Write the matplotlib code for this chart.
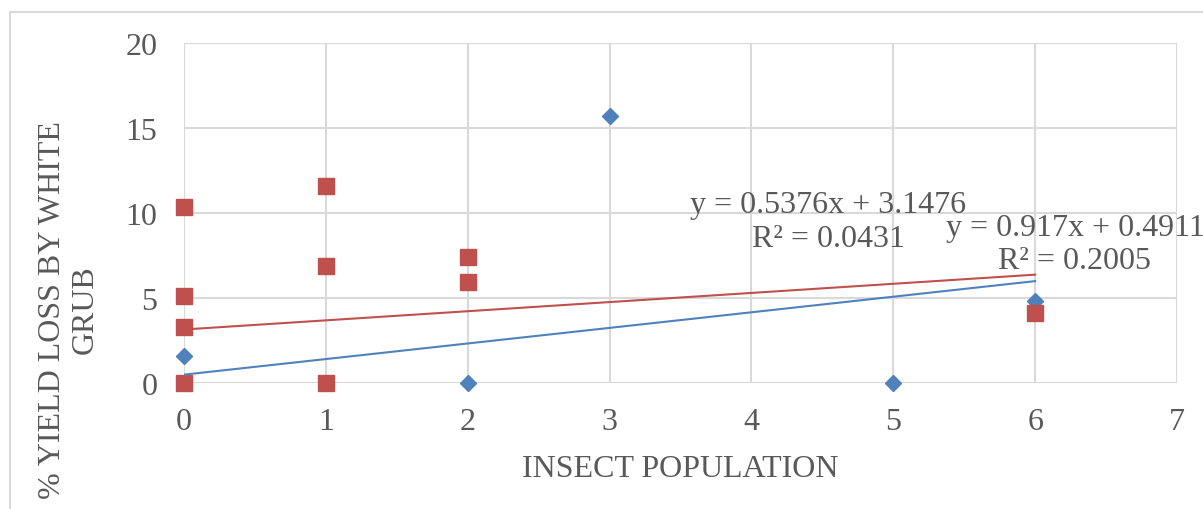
import numpy as np
import matplotlib.pyplot as plt
from matplotlib.patches import Rectangle

# data
blue_x = [0, 0, 2, 3, 5, 6]
blue_y = [1.6, 0, 0, 15.7, 0, 4.8]
red_x = [0, 0, 0, 0, 1, 1, 1, 2, 2, 6]
red_y = [10.35, 5.1, 3.3, 0, 11.6, 6.9, 0, 7.4, 5.95, 4.1]

# trendline coefficients as printed on the chart
blue_fit = (0.917, 0.4911, 0.2005)
red_fit = (0.5376, 3.1476, 0.0431)

BLUE = '#4F81BD'
RED = '#C0504D'
GREY = '#595959'
GRID = '#D9D9D9'
FS = 23

plt.rcParams['font.family'] = ['Liberation Serif', 'DejaVu Serif']

fig = plt.figure(figsize=(12.03, 5.10), dpi=100)
ax = fig.add_axes([184/1203, 1-384/510, (1177-184)/1203, (384-44)/510])

# chart area border (cut off on the right and bottom)
fig.patches.append(Rectangle((10/1203, -0.1), 1.2, 1.1 - 13/510,
                             transform=fig.transFigure, fill=False,
                             edgecolor=GRID, linewidth=1.5))

ax.plot(blue_x, blue_y, linestyle='none', marker='D', markersize=8.5,
        color=BLUE, zorder=3, clip_on=False)
ax.plot(red_x, red_y, linestyle='none', marker='s', markersize=12,
        color=RED, zorder=4, clip_on=False)

for xs, fit, col in [(blue_x, blue_fit, BLUE), (red_x, red_fit, RED)]:
    xx = np.array([min(xs), max(xs)])
    ax.plot(xx, fit[0]*xx + fit[1], color=col, linewidth=1.5, zorder=5)

ax.set_xlim(0, 7)
ax.set_ylim(0, 20)
ax.set_xticks(range(0, 8))
ax.set_yticks(range(0, 21, 5))
ax.grid(True, color=GRID, linewidth=1.5)
ax.set_axisbelow(True)
for s in ax.spines.values():
    s.set_visible(False)
ax.tick_params(length=0, labelsize=FS, labelcolor=GREY)
ax.tick_params(axis='x', pad=17)
ax.tick_params(axis='y', pad=19)

ax.set_xlabel('INSECT POPULATION', fontsize=FS, color=GREY, labelpad=13)
fig.text(69/1203, 1-310/510, '% YIELD LOSS BY WHITE\nGRUB', rotation=90,
         ha='center', va='center', multialignment='center',
         fontsize=FS, color=GREY, linespacing=1.2)

fig.text(828/1203, 1-205/510,
         'y = %.4fx + %.4f' % (red_fit[0], red_fit[1]),
         ha='center', va='center', fontsize=FS, color=GREY)
fig.text(828/1203, 1-240/510, 'R² = %.4f' % red_fit[2],
         ha='center', va='center', fontsize=FS, color=GREY)
fig.text(1075/1203, 1-229/510,
         'y = %.3fx + %.4f' % (blue_fit[0], blue_fit[1]),
         ha='center', va='center', fontsize=FS, color=GREY)
fig.text(1075/1203, 1-262/510, 'R² = %.4f' % blue_fit[2],
         ha='center', va='center', fontsize=FS, color=GREY)

fig.savefig('out.png', dpi=100)
